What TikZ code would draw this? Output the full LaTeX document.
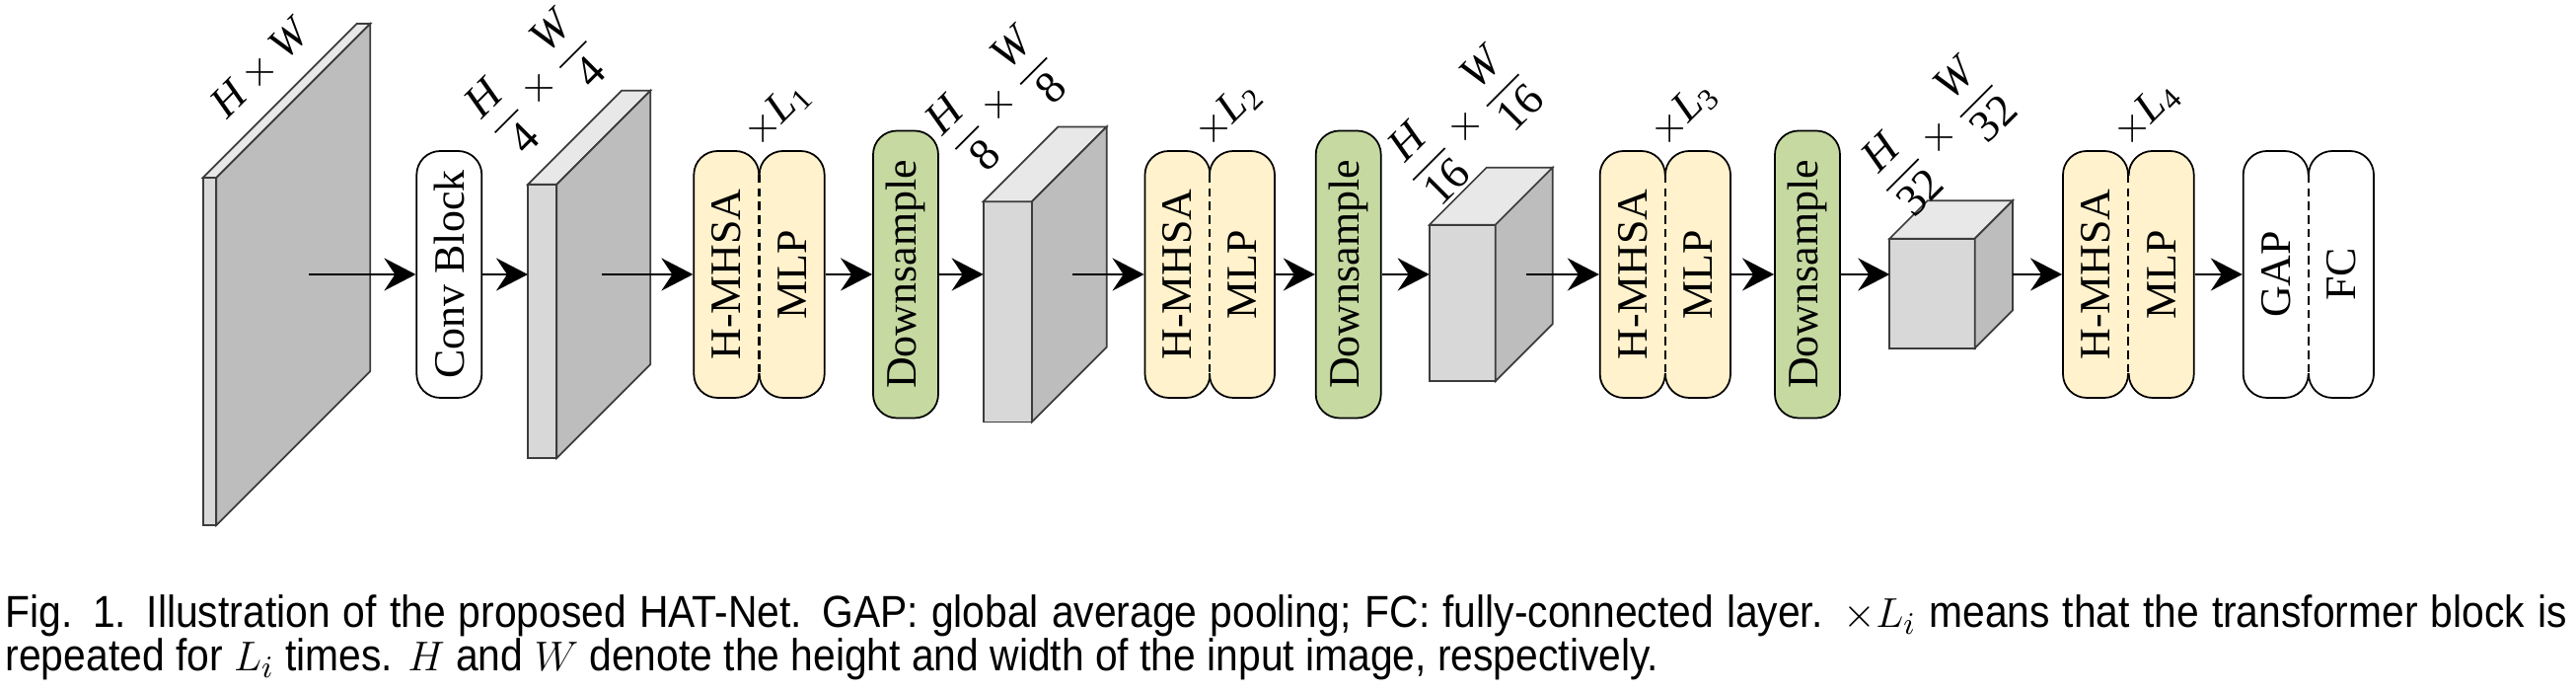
\documentclass[tikz,border=0pt]{standalone}
\usepackage{amsmath}
\usepackage{fontspec}
\setmainfont{Liberation Serif}
\newfontfamily\capfont[FakeStretch=0.9]{Liberation Sans}
\usetikzlibrary{positioning,arrows.meta,calc}
\definecolor{hatYellow}{RGB}{255,242,204}
\definecolor{hatGreen}{RGB}{197,217,161}
\definecolor{hatFront}{RGB}{216,216,216}
\definecolor{hatTop}{RGB}{232,232,232}
\definecolor{hatSide}{RGB}{189,189,189}
\definecolor{hatEdge}{RGB}{60,60,60}
\tikzset{
    base/.style={font=\fontsize{12.5}{15}\selectfont, align=center},
    block/.style={base, rectangle, rounded corners=2.4mm, draw=black, line width=0.5pt,
                  fill=white, rotate=90, minimum width=2.5cm, minimum height=0.66cm, inner sep=0pt},
    attn/.style={block, fill=hatYellow},
    down/.style={block, fill=hatGreen, minimum width=2.91cm},
    face/.style={draw=hatEdge, line width=0.5pt},
    front/.style={face, fill=hatFront, rectangle, outer sep=0pt, inner sep=0pt},
    flow/.style={-{Stealth[length=3.2mm, width=3.3mm, inset=1.1mm]}, line width=0.8pt},
    joint/.style={line width=0.6pt, dash pattern=on 2.4pt off 1.5pt},
    dim/.style={base, rotate=45, inner sep=0pt},
    dimfrac/.style={dim, font=\fontsize{13}{16}\selectfont},
    capline/.style={font=\capfont\fontsize{12.9}{14}\selectfont, inner sep=0pt}
}
% feature map: name, x, width, height, depth
\newcommand{\featmap}[5]{%
  \node[front, minimum width=#3cm, minimum height=#4cm, anchor=south west] (#1) at (#2,{4.24-(#4+#5)/2}) {};
  \draw[face, fill=hatTop] (#1.north west) -- ++(#5,#5) -- ++(#3,0) -- (#1.north east) -- cycle;
  \draw[face, fill=hatSide] (#1.north east) -- ++(#5,#5) -- ++(0,-#4) -- (#1.south east) -- cycle;
}
% dashed seam between two pills: left, right, fill colour
\newcommand{\seam}[3]{%
  \draw[#3, line width=1.4pt] ($(#1.center)!0.5!(#2.center)+(0,1.0)$) -- ($(#1.center)!0.5!(#2.center)+(0,-1.0)$);
  \draw[joint] ($(#1.center)!0.5!(#2.center)+(0,1.01)$) -- ($(#1.center)!0.5!(#2.center)+(0,-1.01)$);
}
\newcommand{\fm}[1]{\dfrac{\textit{H}}{\textrm{#1}}\times\dfrac{\textit{W}}{\textrm{#1}}}

\begin{document}
\begin{tikzpicture}
  \useasboundingbox (0,0) rectangle (26.11,7.02);

  % Feature maps
  \featmap{f1}{2.057}{0.136}{3.52}{1.56}
  \featmap{f2}{5.35}{0.293}{2.773}{0.95}
  \featmap{f3}{9.967}{0.493}{2.233}{0.757}
  \featmap{f4}{14.487}{0.67}{1.584}{0.58}
  \featmap{f5}{19.153}{0.864}{1.11}{0.384}

  \coordinate (o1) at (3.133,4.24);
  \coordinate (o2) at (6.10,4.24);
  \coordinate (o3) at (10.867,4.24);
  \coordinate (o4) at (15.467,4.24);
  \coordinate (o5) at (20.40,4.24);

  % Blocks
  \node[block] (conv) at (4.553,4.24) {Conv Block};

  \node[attn] (t1a) at (7.363,4.24) {H-MHSA};
  \node[attn] (t1b) at (8.027,4.24) {MLP};
  \seam{t1a}{t1b}{hatYellow}
  \node[down] (d1) at (9.18,4.24) {Downsample};

  \node[attn] (t2a) at (11.935,4.24) {H-MHSA};
  \node[attn] (t2b) at (12.59,4.24) {MLP};
  \seam{t2a}{t2b}{hatYellow}
  \node[down] (d2) at (13.667,4.24) {Downsample};

  \node[attn] (t3a) at (16.547,4.24) {H-MHSA};
  \node[attn] (t3b) at (17.21,4.24) {MLP};
  \seam{t3a}{t3b}{hatYellow}
  \node[down] (d3) at (18.32,4.24) {Downsample};

  \node[attn] (t4a) at (21.24,4.24) {H-MHSA};
  \node[attn] (t4b) at (21.907,4.24) {MLP};
  \seam{t4a}{t4b}{hatYellow}

  \node[block] (gap) at (23.067,4.24) {GAP};
  \node[block] (fc) at (23.73,4.24) {FC};
  \seam{gap}{fc}{white}

  % Arrows
  \draw[flow] (o1) -- (conv);
  \draw[flow] (conv) -- (conv -| f2.west);
  \draw[flow] (o2) -- (t1a);
  \draw[flow] (t1b) -- (d1);
  \draw[flow] (d1) -- (d1 -| f3.west);
  \draw[flow] (o3) -- (t2a);
  \draw[flow] (t2b) -- (d2);
  \draw[flow] (d2) -- (d2 -| f4.west);
  \draw[flow] (o4) -- (t3a);
  \draw[flow] (t3b) -- (d3);
  \draw[flow] (d3) -- (d3 -| f5.west);
  \draw[flow] (o5) -- (t4a);
  \draw[flow] (t4b) -- (gap);

  % Sizes and repeats
  \node[dim] (s1) at (2.64,6.32) {$\textit{H}\times\textit{W}$};
  \node[dimfrac] (s2) at (5.45,6.17) {$\fm{4}$};
  \node[dimfrac] (s3) at (10.12,6.0) {$\fm{8}$};
  \node[dimfrac] (s4) at (14.83,5.76) {$\fm{16}$};
  \node[dimfrac] (s5) at (19.63,5.65) {$\fm{32}$};

  \node[dim] (r1) at (7.88,5.87) {$\times\textit{L}_{\textrm{1}}$};
  \node[dim] (r2) at (12.45,5.87) {$\times\textit{L}_{\textrm{2}}$};
  \node[dim] (r3) at (17.07,5.87) {$\times\textit{L}_{\textrm{3}}$};
  \node[dim] (r4) at (21.76,5.87) {$\times\textit{L}_{\textrm{4}}$};

  % Caption
  \node[capline, anchor=base west] (cap1) at (0.05,0.66) {\makebox[25.96cm][s]{Fig. 1. Illustration of the proposed HAT-Net. GAP: global average pooling; FC: fully-connected layer. $\times L_i$ means that the transformer block is}};
  \node[capline, anchor=base west] (cap2) at (0.05,0.22) {repeated for $L_i$ times. $H$ and $W$ denote the height and width of the input image, respectively.};
\end{tikzpicture}
\end{document}
